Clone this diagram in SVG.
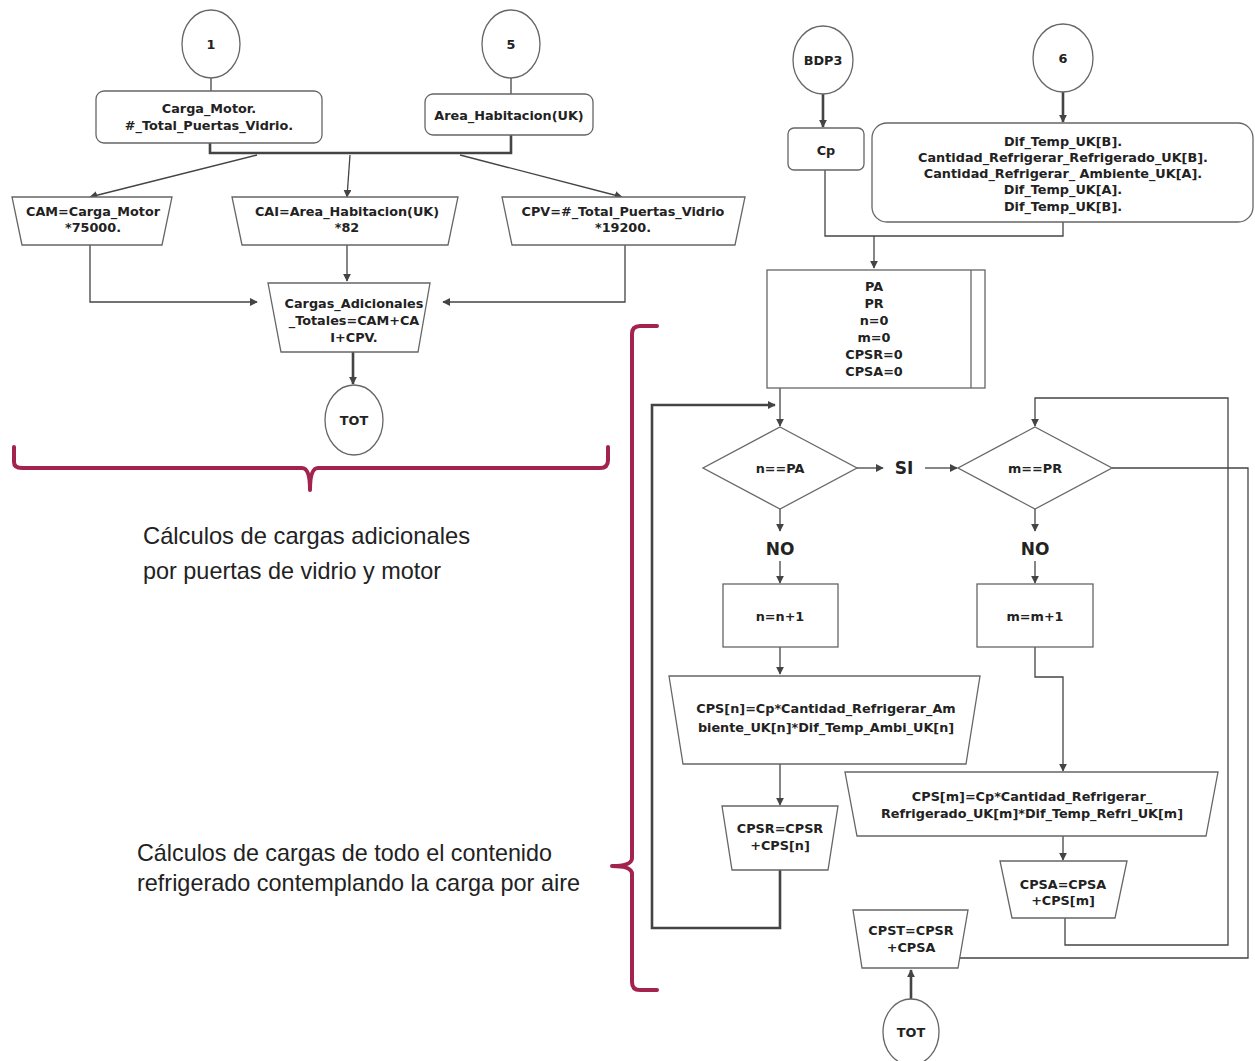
<svg xmlns="http://www.w3.org/2000/svg" width="1255" height="1061" viewBox="0 0 1255 1061">
<defs>
<marker id="ah" viewBox="0 0 10 10" refX="9" refY="5" markerWidth="8" markerHeight="8" markerUnits="userSpaceOnUse" orient="auto">
<path d="M0,0 L10,5 L0,10 z" fill="#444"/>
</marker>
<style>
.n{fill:#fff;stroke:#666;stroke-width:1.3}
.t{font-family:"DejaVu Sans",sans-serif;font-weight:bold;font-size:12.8px;fill:#222;text-anchor:middle;dominant-baseline:central}
.c{fill:none;stroke:#444;stroke-width:1.3}
.ck{fill:none;stroke:#444;stroke-width:2.6}
.a{marker-end:url(#ah)}
.lbl{font-family:"DejaVu Sans",sans-serif;font-weight:bold;font-size:17px;fill:#222;text-anchor:middle;dominant-baseline:central}
.br{fill:none;stroke:#a3234f;stroke-width:4;stroke-linecap:round;stroke-linejoin:round}
.note{font-family:"Liberation Sans",Arial,sans-serif;font-size:24px;fill:#222}
</style>
</defs>
<rect width="1255" height="1061" fill="#fff"/>

<g id="connectors">
<path class="c" d="M211,78 V91"/>
<path class="c" d="M511,78 V94"/>
<path class="ck" d="M210,143 V153 H511 V135"/>
<path class="c a" d="M257,155 L90,197"/>
<path class="c a" d="M350,155 L347,197"/>
<path class="c a" d="M460,155 L622,197"/>
<path class="c a" d="M90,245 V302 H257"/>
<path class="c a" d="M347,245 V281"/>
<path class="c a" d="M625,245 V302 H443"/>
<path class="ck a" d="M353,352 V384"/>
<path class="ck a" d="M823,94 V127"/>
<path class="ck a" d="M1063,92 V122"/>
<path class="c" d="M825,170 V236 H1063 V222"/>
<path class="c a" d="M874,236 V268"/>
<path class="c a" d="M780,270 V426"/>
<path class="ck a" d="M780,870 V928 H652 V405 H775"/>
<path class="c a" d="M857,468 H883"/>
<path class="c a" d="M925,468 H957"/>
<path class="c a" d="M780,509 V531"/>
<path class="c a" d="M780,561 V583"/>
<path class="c a" d="M1035,509 V531"/>
<path class="c a" d="M1035,561 V583"/>
<path class="c a" d="M780,647 V674"/>
<path class="c a" d="M1035,647 V677 H1063 V771"/>
<path class="c a" d="M780,764 V805"/>
<path class="c a" d="M1063,836 V860"/>
<path class="c a" d="M1065,918 V945 H1228 V398 H1035 V426"/>
<path class="c" d="M1112,468 H1248 V958 H958"/>
<path class="ck a" d="M911,999 V970"/>
</g>

<g id="n1"><ellipse class="n" cx="211" cy="44" rx="29" ry="34"/><text class="t" x="211" y="44">1</text></g>
<g id="n5"><ellipse class="n" cx="511" cy="44" rx="29" ry="34"/><text class="t" x="511" y="44">5</text></g>
<g id="inputs1"><rect class="n" x="96" y="91" width="226" height="52" rx="8"/><text class="t" x="209" y="108">Carga_Motor.</text><text class="t" x="209" y="125">#_Total_Puertas_Vidrio.</text></g>
<g id="inputs5"><rect class="n" x="425" y="94" width="168" height="41" rx="8"/><text class="t" x="509" y="115">Area_Habitacion(UK)</text></g>
<g id="cam"><path class="n" d="M12,197 H172 L162,245 H22 Z"/><text class="t" x="93" y="211">CAM=Carga_Motor</text><text class="t" x="93" y="227">*75000.</text></g>
<g id="cai"><path class="n" d="M232,197 H458 L448,245 H242 Z"/><text class="t" x="347" y="211">CAI=Area_Habitacion(UK)</text><text class="t" x="347" y="227">*82</text></g>
<g id="cpv"><path class="n" d="M502,197 H745 L735,245 H512 Z"/><text class="t" x="623" y="211">CPV=#_Total_Puertas_Vidrio</text><text class="t" x="623" y="227">*19200.</text></g>
<g id="cargas"><path class="n" d="M268,283 H430 L418,352 H281 Z"/><text class="t" x="354" y="303">Cargas_Adicionales</text><text class="t" x="354" y="320">_Totales=CAM+CA</text><text class="t" x="354" y="337">I+CPV.</text></g>
<g id="tot1"><ellipse class="n" cx="354" cy="420" rx="29" ry="35"/><text class="t" x="354" y="420">TOT</text></g>

<g id="bdp3"><ellipse class="n" cx="823" cy="60" rx="30" ry="34"/><text class="t" x="823" y="60">BDP3</text></g>
<g id="n6"><ellipse class="n" cx="1063" cy="58" rx="30" ry="34"/><text class="t" x="1063" y="58">6</text></g>
<g id="cp"><rect class="n" x="788" y="128" width="76" height="42" rx="6"/><text class="t" x="826" y="150">Cp</text></g>
<g id="inputs6"><rect class="n" x="872" y="123" width="381" height="99" rx="15"/>
<text class="t" x="1063" y="141">Dif_Temp_UK[B].</text>
<text class="t" x="1063" y="157">Cantidad_Refrigerar_Refrigerado_UK[B].</text>
<text class="t" x="1063" y="173">Cantidad_Refrigerar_ Ambiente_UK[A].</text>
<text class="t" x="1063" y="189">Dif_Temp_UK[A].</text>
<text class="t" x="1063" y="206">Dif_Temp_UK[B].</text></g>
<g id="init"><rect class="n" x="767" y="270" width="218" height="118"/><path class="n" d="M971,270 V388"/>
<text class="t" x="874" y="286">PA</text><text class="t" x="874" y="303">PR</text><text class="t" x="874" y="320">n=0</text><text class="t" x="874" y="337">m=0</text><text class="t" x="874" y="354">CPSR=0</text><text class="t" x="874" y="371">CPSA=0</text></g>
<g id="d1"><path class="n" d="M780,427 L857,468 L780,509 L703,468 Z"/><text class="t" x="780" y="468">n==PA</text></g>
<text class="lbl" x="904" y="468">SI</text>
<g id="d2"><path class="n" d="M1035,427 L1112,468 L1035,509 L958,468 Z"/><text class="t" x="1035" y="468">m==PR</text></g>
<text class="lbl" x="780" y="549">NO</text>
<text class="lbl" x="1035" y="549">NO</text>
<g id="incn"><rect class="n" x="723" y="584" width="115" height="63"/><text class="t" x="780" y="616">n=n+1</text></g>
<g id="incm"><rect class="n" x="977" y="584" width="116" height="63"/><text class="t" x="1035" y="616">m=m+1</text></g>
<g id="cpsn"><path class="n" d="M669,676 H980 L966,764 H683 Z"/><text class="t" x="826" y="708">CPS[n]=Cp*Cantidad_Refrigerar_Am</text><text class="t" x="826" y="727">biente_UK[n]*Dif_Temp_Ambi_UK[n]</text></g>
<g id="cpsm"><path class="n" d="M845,772 H1218 L1206,836 H857 Z"/><text class="t" x="1032" y="796">CPS[m]=Cp*Cantidad_Refrigerar_</text><text class="t" x="1032" y="813">Refrigerado_UK[m]*Dif_Temp_Refri_UK[m]</text></g>
<g id="cpsr"><path class="n" d="M722,806 H838 L828,870 H732 Z"/><text class="t" x="780" y="828">CPSR=CPSR</text><text class="t" x="780" y="845">+CPS[n]</text></g>
<g id="cpsa"><path class="n" d="M1000,861 H1127 L1115,918 H1012 Z"/><text class="t" x="1063" y="884">CPSA=CPSA</text><text class="t" x="1063" y="900">+CPS[m]</text></g>
<g id="cpst"><path class="n" d="M853,910 H968 L958,968 H862 Z"/><text class="t" x="911" y="930">CPST=CPSR</text><text class="t" x="911" y="947">+CPSA</text></g>
<g id="tot2"><ellipse class="n" cx="911" cy="1032" rx="28" ry="33"/><text class="t" x="911" y="1032">TOT</text></g>

<g id="annotations">
<path class="br" d="M14,447 V462 Q14,468 22,468 H302 Q310,468 310,490 Q310,468 318,468 H600 Q608,468 608,460 V447"/>
<text class="note" x="143" y="544" textLength="327" lengthAdjust="spacingAndGlyphs">Cálculos de cargas adicionales</text>
<text class="note" x="143" y="579" textLength="298" lengthAdjust="spacingAndGlyphs">por puertas de vidrio y motor</text>
<path class="br" d="M657,326 H640 Q632,326 632,334 V858 Q632,866 612,866 Q632,866 632,874 V982 Q632,990 640,990 H657"/>
<text class="note" x="137" y="861" textLength="415" lengthAdjust="spacingAndGlyphs">Cálculos de cargas de todo el contenido</text>
<text class="note" x="137" y="891" textLength="443" lengthAdjust="spacingAndGlyphs">refrigerado contemplando la carga por aire</text>
</g>
</svg>
